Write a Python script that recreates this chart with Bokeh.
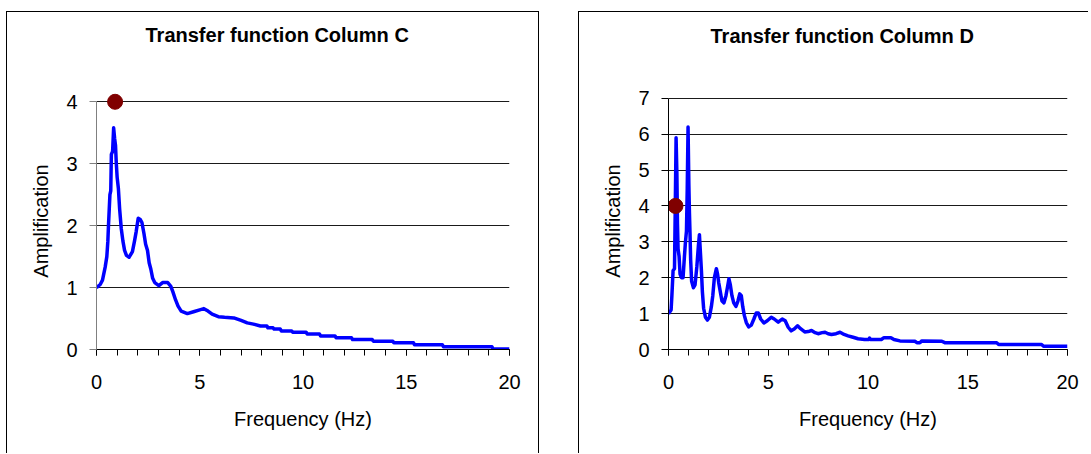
from bokeh.plotting import figure
from bokeh.layouts import row
from bokeh.models import Range1d, FixedTicker, Title
from bokeh.embed import file_html
from bokeh.resources import INLINE

# ---------------- data ----------------
title_c = "Transfer function Column C"
title_d = "Transfer function Column D"
x_label = "Frequency (Hz)"
y_label = "Amplification"

x_ticks = [0, 5, 10, 15, 20]
x_minor_ticks = list(range(0, 21))
y_ticks_c = [0, 1, 2, 3, 4]
y_ticks_d = [0, 1, 2, 3, 4, 5, 6, 7]

freq_c = [0.0, 0.18, 0.29, 0.42, 0.5, 0.55, 0.58, 0.65, 0.69, 0.72, 0.78, 0.83, 0.88,
          0.92, 0.96, 1.0, 1.06, 1.12, 1.2, 1.28, 1.36, 1.45, 1.58, 1.74, 1.84, 1.92,
          2.02, 2.12, 2.2, 2.3, 2.38, 2.47, 2.55, 2.63, 2.72, 2.82, 3.02, 3.2, 3.45,
          3.6, 3.7, 3.83, 3.95, 4.1, 4.4, 4.7, 5.0, 5.2, 5.4, 5.6, 5.9, 6.2, 6.65,
          7.0, 7.3, 7.6, 7.94, 8.25, 8.3, 8.55, 8.6, 8.9, 8.95, 9.45, 9.5, 10.15,
          10.2, 10.8, 10.85, 11.55, 11.6, 12.35, 12.4, 13.35, 13.4, 14.35, 14.4,
          15.35, 15.4, 16.75, 16.8, 19.15, 19.2, 20.0]
amp_c = [1.0, 1.05, 1.12, 1.33, 1.5, 1.75, 2.0, 2.5, 2.56, 3.15, 3.2, 3.58, 3.4,
         3.3, 3.0, 2.78, 2.6, 2.27, 1.95, 1.75, 1.6, 1.52, 1.49, 1.58, 1.75, 1.9,
         2.12, 2.1, 2.05, 1.87, 1.7, 1.6, 1.4, 1.3, 1.15, 1.08, 1.03, 1.08, 1.08,
         1.02, 0.93, 0.8, 0.7, 0.62, 0.58, 0.61, 0.64, 0.66, 0.62, 0.57, 0.53, 0.52,
         0.51, 0.47, 0.43, 0.41, 0.38, 0.38, 0.35, 0.35, 0.33, 0.33, 0.30, 0.30,
         0.28, 0.28, 0.25, 0.25, 0.22, 0.22, 0.19, 0.19, 0.16, 0.16, 0.135, 0.135,
         0.11, 0.11, 0.075, 0.075, 0.045, 0.045, 0.01, 0.01]

freq_d = [0.0, 0.13, 0.17, 0.23, 0.3, 0.34, 0.38, 0.42, 0.45, 0.48, 0.53, 0.58, 0.65,
          0.73, 0.8, 0.85, 0.9, 0.94, 0.98, 1.02, 1.05, 1.08, 1.11, 1.16, 1.25, 1.33,
          1.42, 1.5, 1.55, 1.6, 1.65, 1.7, 1.76, 1.85, 1.95, 2.05, 2.15, 2.22, 2.3,
          2.4, 2.46, 2.52, 2.6, 2.68, 2.78, 2.88, 2.96, 3.03, 3.1, 3.18, 3.27, 3.38,
          3.48, 3.57, 3.65, 3.72, 3.8, 3.9, 4.02, 4.15, 4.28, 4.4, 4.5, 4.62, 4.78,
          4.95, 5.15, 5.3, 5.5, 5.7, 5.85, 6.0, 6.15, 6.3, 6.47, 6.62, 6.83, 7.0,
          7.17, 7.35, 7.5, 7.7, 7.85, 8.0, 8.17, 8.4, 8.6, 8.8, 9.0, 9.25, 9.5,
          9.83, 10.05, 10.08, 10.12, 10.67, 10.8, 11.15, 11.3, 11.6, 12.35, 12.45,
          12.6, 12.7, 13.7, 13.85, 16.45, 16.55, 18.7, 18.8, 20.0]
amp_d = [1.0, 1.1, 1.5, 2.2, 2.25, 4.0, 5.9, 4.9, 3.5, 2.8, 2.6, 2.1, 2.0,
         2.0, 2.6, 3.0, 3.3, 4.5, 6.2, 4.6, 3.8, 3.2, 2.5, 1.9, 1.72, 1.8,
         2.3, 2.9, 3.2, 2.7, 2.2, 1.6, 1.15, 0.9, 0.82, 0.9, 1.2, 1.5, 2.0,
         2.25, 2.1, 1.85, 1.6, 1.35, 1.3, 1.5, 1.75, 1.97, 1.8, 1.5, 1.3, 1.2,
         1.35, 1.55, 1.5, 1.2, 0.95, 0.75, 0.63, 0.68, 0.85, 1.02, 1.02, 0.85, 0.74,
         0.8, 0.9, 0.85, 0.76, 0.85, 0.8, 0.62, 0.52, 0.57, 0.66, 0.58, 0.49, 0.5,
         0.53, 0.47, 0.44, 0.47, 0.48, 0.44, 0.42, 0.44, 0.48, 0.42, 0.38, 0.34, 0.3,
         0.28, 0.28, 0.32, 0.28, 0.28, 0.33, 0.33, 0.28, 0.24, 0.23, 0.19,
         0.19, 0.24, 0.23, 0.19, 0.19, 0.14, 0.14, 0.09, 0.09]

marker_c_freq = [0.9]
marker_c_amp = [4.0]
marker_d_freq = [0.35]
marker_d_amp = [4.0]

FONT = "Liberation Sans"
LINE_BLUE = "#0000FF"
DOT_RED = "#800000"


def make_panel(title, freqs, amps, mfreq, mamp, yticks, ymax, yrange_max,
               width, mb_right, title_offset, spacer_standoff, yaxis_color):
    p = figure(width=width, height=442, title=None,
               x_range=Range1d(0, 20), y_range=Range1d(0, yrange_max),
               output_backend="svg", toolbar_location=None,
               min_border_left=89, min_border_right=mb_right,
               min_border_top=80, min_border_bottom=105,
               background_fill_color="white", border_fill_color="white")
    p.outline_line_color = None

    # empty spacer panel between frame and title, then the title itself
    p.add_layout(Title(text=" ", text_font_size="2px", standoff=spacer_standoff),
                 "above")
    p.add_layout(Title(text=title, text_font=FONT, text_font_size="20px",
                       text_font_style="bold", text_color="black",
                       align="left", offset=title_offset, standoff=10),
                 "above")

    # x axis
    xa = p.xaxis[0]
    xa.ticker = FixedTicker(ticks=x_ticks, minor_ticks=x_minor_ticks)
    xa.axis_label = x_label
    xa.axis_label_text_font = FONT
    xa.axis_label_text_font_size = "20px"
    xa.axis_label_text_font_style = "normal"
    xa.axis_label_text_color = "black"
    xa.axis_label_standoff = 16
    xa.major_label_text_font = FONT
    xa.major_label_text_font_size = "20px"
    xa.major_label_text_color = "black"
    xa.major_label_standoff = 19
    xa.axis_line_color = "black"
    xa.major_tick_line_color = "black"
    xa.minor_tick_line_color = "black"
    xa.major_tick_in = 0
    xa.major_tick_out = 6
    xa.minor_tick_in = 0
    xa.minor_tick_out = 6

    # y axis
    ya = p.yaxis[0]
    ya.ticker = FixedTicker(ticks=yticks)
    ya.bounds = (0, ymax)
    ya.axis_label = y_label
    ya.axis_label_text_font = FONT
    ya.axis_label_text_font_size = "20px"
    ya.axis_label_text_font_style = "normal"
    ya.axis_label_text_color = "black"
    ya.axis_label_standoff = 11
    ya.major_label_text_font = FONT
    ya.major_label_text_font_size = "20px"
    ya.major_label_text_color = "black"
    ya.major_label_standoff = 12
    ya.axis_line_color = yaxis_color
    ya.major_tick_line_color = yaxis_color
    ya.minor_tick_line_color = None
    ya.major_tick_in = 0
    ya.major_tick_out = 7

    p.xgrid.grid_line_color = None
    p.ygrid.ticker = FixedTicker(ticks=yticks)
    p.ygrid.grid_line_color = "#1a1a1a"
    p.ygrid.grid_line_width = 1

    p.line(freqs, amps, line_color=LINE_BLUE, line_width=3.5, line_join="round")
    p.scatter(mfreq, mamp, size=15, fill_color=DOT_RED, line_color=DOT_RED)
    return p


p1 = make_panel(title_c, freq_c, amp_c, marker_c_freq, marker_c_amp,
                y_ticks_c, 4, 4.15, 533, 31, title_offset=49, spacer_standoff=38,
                yaxis_color="#808080")
p1.styles = {"border-top": "1px solid black", "border-left": "1px solid black",
             "border-right": "1px solid black"}
p1.margin = (11, 0, 0, 6)

p2 = make_panel(title_d, freq_d, amp_d, marker_d_freq, marker_d_amp,
                y_ticks_d, 7, 7.16, 510, 22, title_offset=42, spacer_standoff=37,
                yaxis_color="black")
p2.styles = {"border-top": "1px solid black", "border-left": "1px solid black"}
p2.margin = (11, 0, 0, 39)

layout = row(p1, p2)
layout.margin = 0

open("out.html", "w").write(file_html(layout, INLINE))
